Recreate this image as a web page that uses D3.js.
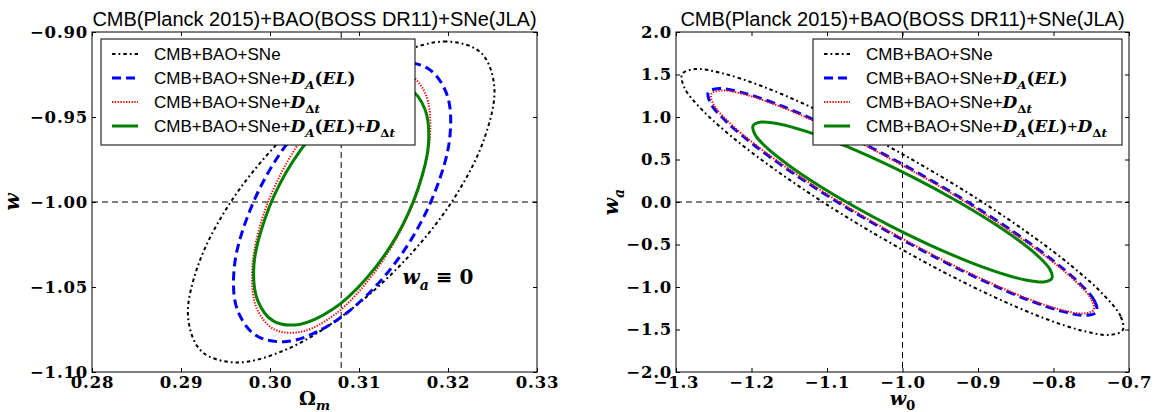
<!DOCTYPE html>
<html><head><meta charset="utf-8">
<script src="https://cdn.jsdelivr.net/npm/d3@7"></script>
<style>body{margin:0;background:#fff;}svg{display:block}</style>
</head><body>
<svg id="chart" width="1155" height="412"></svg>
<script>
// ---------------- data ----------------
const titleText = "CMB(Planck 2015)+BAO(BOSS DR11)+SNe(JLA)";
const leftXTicks = [0.28, 0.29, 0.30, 0.31, 0.32, 0.33];
const leftXTickLabels = ["0.28", "0.29", "0.30", "0.31", "0.32", "0.33"];
const leftYTicks = [-0.90, -0.95, -1.00, -1.05, -1.10];
const leftYTickLabels = ["\u22120.90", "\u22120.95", "\u22121.00", "\u22121.05", "\u22121.10"];
const rightXTicks = [-1.3, -1.2, -1.1, -1.0, -0.9, -0.8, -0.7];
const rightXTickLabels = ["\u22121.3", "\u22121.2", "\u22121.1", "\u22121.0", "\u22120.9", "\u22120.8", "\u22120.7"];
const rightYTicks = [2.0, 1.5, 1.0, 0.5, 0.0, -0.5, -1.0, -1.5, -2.0];
const rightYTickLabels = ["2.0", "1.5", "1.0", "0.5", "0.0", "\u22120.5", "\u22121.0", "\u22121.5", "\u22122.0"];
const leftRefX = 0.308, leftRefY = -1.0;
const rightRefX = -1.0, rightRefY = 0.0;

const seriesNames = ["CMB+BAO+SNe", "CMB+BAO+SNe+D_A(EL)", "CMB+BAO+SNe+D_Δt", "CMB+BAO+SNe+D_A(EL)+D_Δt"];

// Left panel contours: [Omega_m, w]
const leftBlack = [[0.3237,-0.9122],[0.3198,-0.9056],[0.3141,-0.9134],[0.3075,-0.9344],[0.3009,-0.9653],[0.2954,-1.0015],[0.2919,-1.0376],[0.2908,-1.0679],[0.2923,-1.0878],[0.2962,-1.0944],[0.3019,-1.0866],[0.3085,-1.0656],[0.3151,-1.0347],[0.3206,-0.9985],[0.3241,-0.9624],[0.3252,-0.9321]];
const leftBlue = [[0.3178,-0.9216],[0.3143,-0.9179],[0.3098,-0.9268],[0.3050,-0.9468],[0.3007,-0.9749],[0.2976,-1.0069],[0.2960,-1.0378],[0.2963,-1.0629],[0.2984,-1.0784],[0.3019,-1.0821],[0.3064,-1.0732],[0.3112,-1.0532],[0.3155,-1.0251],[0.3186,-0.9931],[0.3202,-0.9622],[0.3199,-0.9371]];
const leftRed = [[0.3155,-0.9242],[0.3124,-0.9230],[0.3086,-0.9335],[0.3048,-0.9541],[0.3014,-0.9816],[0.2990,-1.0118],[0.2980,-1.0402],[0.2985,-1.0624],[0.3005,-1.0750],[0.3036,-1.0762],[0.3074,-1.0657],[0.3112,-1.0451],[0.3146,-1.0176],[0.3170,-0.9874],[0.3180,-0.9590],[0.3175,-0.9368]];
const leftGreen = [[0.3156,-0.9329],[0.3127,-0.9310],[0.3090,-0.9397],[0.3052,-0.9579],[0.3018,-0.9827],[0.2994,-1.0104],[0.2982,-1.0367],[0.2986,-1.0577],[0.3004,-1.0701],[0.3033,-1.0720],[0.3070,-1.0633],[0.3108,-1.0451],[0.3142,-1.0203],[0.3166,-0.9926],[0.3178,-0.9663],[0.3174,-0.9453]];

// Right panel contours: [w0, wa]
const rightBlack = [[-0.7083,-1.506],[-0.7111,-1.345],[-0.7336,-1.093],[-0.7742,-0.766],[-0.8302,-0.387],[-0.8977,0.019],[-0.9723,0.422],[-1.0487,0.798],[-1.1219,1.119],[-1.1866,1.364],[-1.2388,1.515],[-1.2746,1.564],[-1.2917,1.506],[-1.2889,1.345],[-1.2664,1.093],[-1.2258,0.766],[-1.1698,0.387],[-1.1023,-0.019],[-1.0277,-0.422],[-0.9513,-0.798],[-0.8781,-1.119],[-0.8134,-1.364],[-0.7612,-1.515],[-0.7254,-1.564]];
const rightBlue = [[-0.7428,-1.291],[-0.7460,-1.159],[-0.7665,-0.948],[-0.8029,-0.674],[-0.8527,-0.353],[-0.9127,-0.007],[-0.9785,0.338],[-1.0458,0.660],[-1.1099,0.938],[-1.1666,1.152],[-1.2121,1.287],[-1.2429,1.334],[-1.2572,1.291],[-1.2540,1.159],[-1.2335,0.948],[-1.1971,0.674],[-1.1473,0.353],[-1.0873,0.007],[-1.0215,-0.338],[-0.9542,-0.660],[-0.8901,-0.938],[-0.8334,-1.152],[-0.7879,-1.287],[-0.7571,-1.334]];
const rightRed = [[-0.7469,-1.271],[-0.7501,-1.142],[-0.7703,-0.936],[-0.8062,-0.667],[-0.8554,-0.352],[-0.9143,-0.012],[-0.9792,0.328],[-1.0454,0.646],[-1.1085,0.919],[-1.1642,1.131],[-1.2087,1.265],[-1.2391,1.312],[-1.2531,1.271],[-1.2499,1.142],[-1.2297,0.936],[-1.1938,0.667],[-1.1446,0.352],[-1.0857,0.012],[-1.0208,-0.328],[-0.9546,-0.646],[-0.8915,-0.919],[-0.8358,-1.131],[-0.7913,-1.265],[-0.7609,-1.312]];
const rightGreen = [[-0.8021,-0.898],[-0.8046,-0.794],[-0.8205,-0.636],[-0.8486,-0.436],[-0.8870,-0.206],[-0.9332,0.039],[-0.9838,0.281],[-1.0356,0.504],[-1.0849,0.692],[-1.1285,0.833],[-1.1633,0.918],[-1.1870,0.940],[-1.1979,0.898],[-1.1954,0.794],[-1.1795,0.636],[-1.1514,0.436],[-1.1130,0.206],[-1.0668,-0.039],[-1.0162,-0.281],[-0.9644,-0.504],[-0.9151,-0.692],[-0.8715,-0.833],[-0.8367,-0.918],[-0.8130,-0.940]];

// ---------------- drawing ----------------
const svg = d3.select("#chart");
const sansFont = "'Liberation Sans', Arial, sans-serif";
const serifFont = "'DejaVu Serif', serif";

const styles = [
  {color: "#000000", width: 2, dash: "3.5,3,1.8,3"},
  {color: "#0000ff", width: 3, dash: "9,5"},
  {color: "#ff0000", width: 2, dash: "1.3,1.5"},
  {color: "#007f00", width: 3, dash: null}
];

const legendParts = [
  [["CMB+BAO+SNe","t"]],
  [["CMB+BAO+SNe+","t"],["D","m"],["A","s"],["(","p"],["EL","m"],[")","p"]],
  [["CMB+BAO+SNe+","t"],["D","m"],["\u0394","sb"],["t","s"]],
  [["CMB+BAO+SNe+","t"],["D","m"],["A","s"],["(","p"],["EL","m"],[")","p"],["+","t"],["D","m"],["\u0394","sb"],["t","s"]]
];

function addParts(textSel, parts, size) {
  let sub = false;
  parts.forEach(([txt, kind]) => {
    const ts = textSel.append("tspan").text(txt);
    const isSub = (kind === "s" || kind === "sb");
    if (isSub && !sub) ts.attr("dy", size * 0.28);
    if (!isSub && sub) ts.attr("dy", -size * 0.28);
    sub = isSub;
    if (kind === "t") ts.attr("font-family", sansFont).attr("font-size", size);
    else if (kind === "m") ts.attr("font-family", serifFont).attr("font-weight", "bold").attr("font-style", "italic").attr("font-size", size);
    else if (kind === "p") ts.attr("font-family", serifFont).attr("font-weight", "bold").attr("font-size", size);
    else if (kind === "s") ts.attr("font-family", serifFont).attr("font-weight", "bold").attr("font-style", "italic").attr("font-size", size * 0.7);
    else if (kind === "sb") ts.attr("font-family", serifFont).attr("font-weight", "bold").attr("font-size", size * 0.7);
  });
}

function panel(cfg) {
  const x = d3.scaleLinear().domain(cfg.xDomain).range([cfg.x0, cfg.x1]);
  const y = d3.scaleLinear().domain(cfg.yDomain).range([cfg.y1, cfg.y0]);
  const g = svg.append("g");
  const clipId = "clip" + cfg.id;
  svg.append("defs").append("clipPath").attr("id", clipId)
    .append("rect").attr("x", cfg.x0).attr("y", cfg.y0).attr("width", cfg.x1 - cfg.x0).attr("height", cfg.y1 - cfg.y0);
  const plot = g.append("g").attr("clip-path", `url(#${clipId})`);

  plot.append("line").attr("x1", cfg.x0).attr("x2", cfg.x1).attr("y1", y(cfg.refY)).attr("y2", y(cfg.refY))
    .attr("stroke", "#000").attr("stroke-width", 1).attr("stroke-dasharray", "6,4");
  plot.append("line").attr("x1", x(cfg.refX)).attr("x2", x(cfg.refX)).attr("y1", cfg.y0).attr("y2", cfg.y1)
    .attr("stroke", "#000").attr("stroke-width", 1).attr("stroke-dasharray", "6,4");

  const line = d3.line().x(d => x(d[0])).y(d => y(d[1])).curve(d3.curveCatmullRomClosed.alpha(0.5));
  cfg.series.forEach((data, i) => {
    const st = styles[i];
    plot.append("path").attr("d", line(data)).attr("fill", "none")
      .attr("stroke", st.color).attr("stroke-width", st.width)
      .attr("stroke-dasharray", st.dash);
  });

  const tickFont = g => g.selectAll("text").attr("font-family", serifFont).attr("font-weight", "bold")
    .attr("font-size", 16.5).attr("letter-spacing", 0.8).attr("fill", "#000");
  const xLab = new Map(cfg.xTicks.map((v, i) => [v, cfg.xTickLabels[i]]));
  const yLab = new Map(cfg.yTicks.map((v, i) => [v, cfg.yTickLabels[i]]));
  g.append("g").attr("transform", `translate(0,${cfg.y1})`)
    .call(d3.axisBottom(x).tickValues(cfg.xTicks).tickSizeInner(-4).tickSizeOuter(0).tickPadding(4).tickFormat(v => xLab.get(v)))
    .call(tickFont).call(a => a.select(".domain").remove());
  g.append("g").attr("transform", `translate(0,${cfg.y0})`)
    .call(d3.axisTop(x).tickValues(cfg.xTicks).tickSizeInner(-4).tickSizeOuter(0).tickFormat(""))
    .call(a => a.select(".domain").remove());
  g.append("g").attr("transform", `translate(${cfg.x0},0)`)
    .call(d3.axisLeft(y).tickValues(cfg.yTicks).tickSizeInner(-4).tickSizeOuter(0).tickPadding(4).tickFormat(v => yLab.get(v)))
    .call(tickFont).call(a => a.select(".domain").remove());
  g.append("g").attr("transform", `translate(${cfg.x1},0)`)
    .call(d3.axisRight(y).tickValues(cfg.yTicks).tickSizeInner(-4).tickSizeOuter(0).tickFormat(""))
    .call(a => a.select(".domain").remove());
  g.selectAll(".tick line").attr("stroke", "#000").attr("stroke-width", 1);

  const lg = g.append("g");
  lg.append("rect").attr("x", cfg.lx).attr("y", 39).attr("width", cfg.lw).attr("height", 106)
    .attr("fill", "#fff").attr("stroke", "#000").attr("stroke-width", 1);
  seriesNames.forEach((name, i) => {
    const cy = 54 + i * 24;
    const st = styles[i];
    lg.append("line").attr("x1", cfg.lx + 11).attr("x2", cfg.lx + 37).attr("y1", cy).attr("y2", cy)
      .attr("stroke", st.color).attr("stroke-width", st.width).attr("stroke-dasharray", st.dash);
    const t = lg.append("text").attr("x", cfg.lx + 53).attr("y", cy + 6).attr("fill", "#000");
    addParts(t, legendParts[i], 17);
  });

  g.append("rect").attr("x", cfg.x0).attr("y", cfg.y0).attr("width", cfg.x1 - cfg.x0).attr("height", cfg.y1 - cfg.y0)
    .attr("fill", "none").attr("stroke", "#000").attr("stroke-width", 1);

  g.append("text").attr("x", (cfg.x0 + cfg.x1) / 2).attr("y", 26).attr("text-anchor", "middle")
    .attr("font-family", sansFont).attr("font-size", 20).text(titleText);

  const xl = g.append("text").attr("x", (cfg.x0 + cfg.x1) / 2).attr("y", 405).attr("text-anchor", "middle");
  addParts(xl, cfg.xLabel, 19);
  const yl = g.append("text").attr("transform", `translate(${cfg.ylx},${(cfg.y0 + cfg.y1) / 2}) rotate(-90)`).attr("text-anchor", "middle");
  addParts(yl, cfg.yLabel, 20);
  return {x, y, g};
}

const L = panel({id: "L", x0: 92, x1: 537, y0: 32, y1: 372, xDomain: [0.28, 0.33], yDomain: [-1.10, -0.90],
  xTicks: leftXTicks, xTickLabels: leftXTickLabels, yTicks: leftYTicks, yTickLabels: leftYTickLabels,
  refX: leftRefX, refY: leftRefY, series: [leftBlack, leftBlue, leftRed, leftGreen], lx: 101, lw: 314,
  xLabel: [["\u03A9","p"],["m","s"]], yLabel: [["w","m"]], ylx: 19});
const R = panel({id: "R", x0: 676, x1: 1129, y0: 32, y1: 372, xDomain: [-1.3, -0.7], yDomain: [-2.0, 2.0],
  xTicks: rightXTicks, xTickLabels: rightXTickLabels, yTicks: rightYTicks, yTickLabels: rightYTickLabels,
  refX: rightRefX, refY: rightRefY, series: [rightBlack, rightBlue, rightRed, rightGreen], lx: 813, lw: 309,
  xLabel: [["w","m"],["0","sb"]], yLabel: [["w","m"],["a","s"]], ylx: 618});

const ann = L.g.append("text").attr("x", L.x(0.3149)).attr("y", 284);
addParts(ann, [["w","m"],["a","s"],[" \u2261 0","p"]], 20);
</script>
</body></html>
